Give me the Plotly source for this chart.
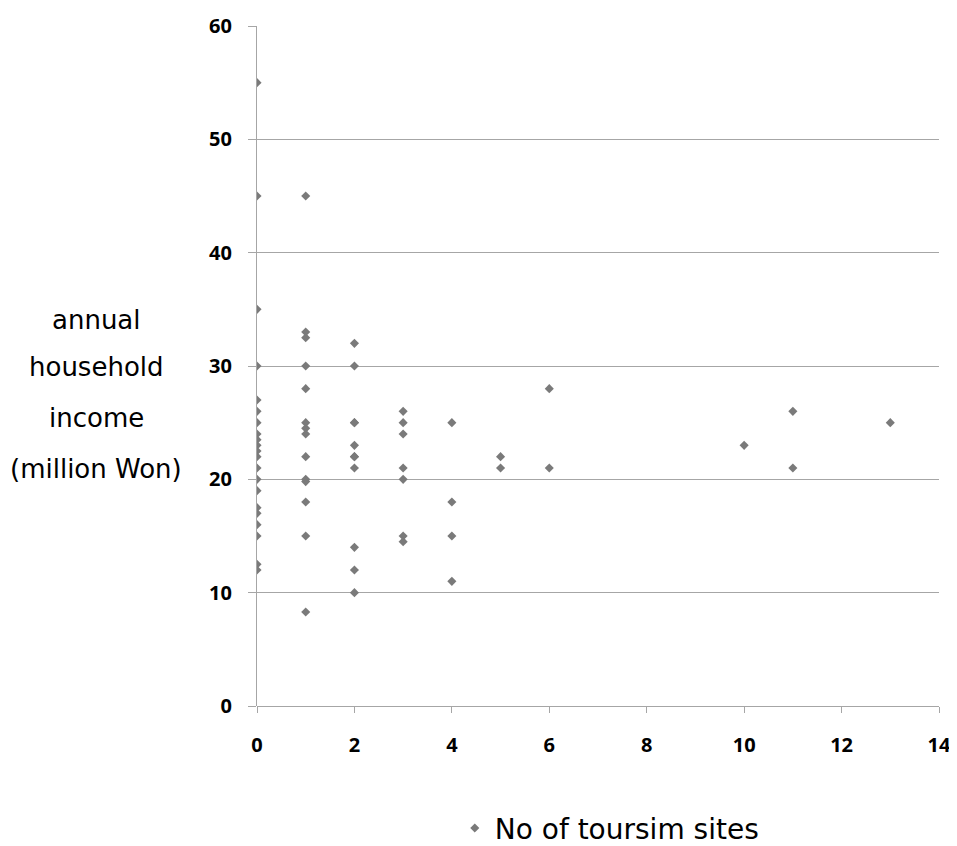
import plotly.graph_objects as go

# No of tourism sites (x) and annual household income in million Won (y)
sites_0 = [0] * 21
income_0 = [55, 45, 35, 30, 27, 26, 25, 24, 23.5, 23, 22.5, 22, 21, 20, 19, 17.5, 17, 16, 15, 12.5, 12]
sites_1 = [1] * 14
income_1 = [45, 33, 32.5, 30, 28, 25, 24.5, 24, 22, 20, 19.8, 18, 15, 8.3]
sites_2 = [2] * 11
income_2 = [32, 30, 25, 25, 23, 22, 22, 21, 14, 12, 10]
sites_3 = [3] * 7
income_3 = [26, 25, 24, 21, 20, 15, 14.5]
sites_rest = [4, 4, 4, 4, 5, 5, 6, 6, 10, 11, 11, 13]
income_rest = [25, 18, 15, 11, 22, 21, 28, 21, 23, 26, 21, 25]

x_vals = sites_0 + sites_1 + sites_2 + sites_3 + sites_rest
y_vals = income_0 + income_1 + income_2 + income_3 + income_rest

x_ticks = [0, 2, 4, 6, 8, 10, 12, 14]
y_ticks = [0, 10, 20, 30, 40, 50, 60]
y_title_lines = ["annual", "household", "income", "(million Won)"]

FONT = "Noto Sans"
TEXT_FONT = "DejaVu Sans"
GRID = "#a6a6a6"

fig = go.Figure()
fig.add_trace(go.Scatter(
    x=x_vals, y=y_vals, mode="markers", name="No of toursim sites",
    marker=dict(symbol="diamond", size=7, color="#7a7a7a"),
))

fig.update_layout(
    width=949, height=846,
    margin=dict(l=249, r=18, t=18, b=148, autoexpand=False),
    plot_bgcolor="white", paper_bgcolor="white",
    font=dict(family=FONT, color="#000000"),
    showlegend=True,
    legend=dict(x=0.29, y=-0.143, xanchor="left", yanchor="top",
                font=dict(family=TEXT_FONT, size=28, color="#000000"),
                itemsizing="trace"),
    xaxis=dict(range=[0, 14], tickvals=x_ticks, showgrid=False, zeroline=False,
               showline=False, ticks="outside", ticklen=6, tickcolor=GRID,
               automargin=False,
               tickfont=dict(family=FONT, size=20, weight="bold"),
               ticklabelstandoff=15),
    yaxis=dict(range=[0, 60], tickvals=y_ticks, showgrid=True, gridcolor=GRID,
               gridwidth=1, zeroline=True, zerolinecolor=GRID, zerolinewidth=1,
               showline=True, linecolor=GRID, linewidth=1,
               ticks="outside", ticklen=8, tickcolor=GRID,
               automargin=False,
               tickfont=dict(family=FONT, size=20, weight="bold"),
               ticklabelstandoff=12),
)

line_y = [0.568, 0.499, 0.424, 0.349]
for txt, yy in zip(y_title_lines, line_y):
    fig.add_annotation(text=txt, xref="paper", yref="paper", x=-0.236, y=yy,
                       xanchor="center", yanchor="middle", showarrow=False,
                       font=dict(family=TEXT_FONT, size=26, color="#000000"))

fig.write_html("out.html")
